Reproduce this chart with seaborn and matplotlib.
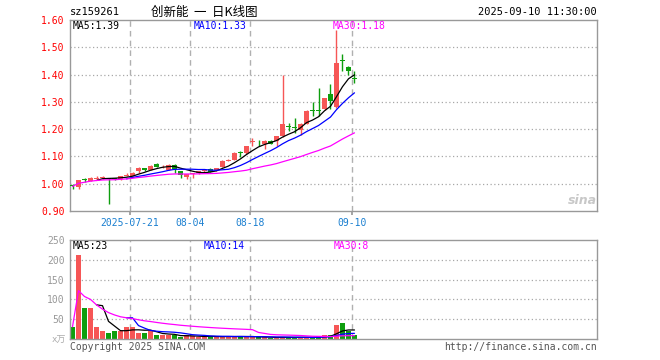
import numpy as np
import pandas as pd
import seaborn as sns
import matplotlib.pyplot as plt

# daily candles 2025-07-07 .. 2025-09-10
opens = [0.995, 0.988, 1.016, 1.011, 1.019, 1.020, 1.020, 1.020, 1.018, 1.030,
         1.030, 1.045, 1.056, 1.052, 1.074, 1.064, 1.051, 1.069, 1.045, 1.024,
         1.036, 1.039, 1.045, 1.055, 1.049, 1.063, 1.085, 1.088, 1.115, 1.113,
         1.153, 1.157, 1.147, 1.158, 1.155, 1.174, 1.210, 1.206, 1.198, 1.220,
         1.270, 1.270, 1.272, 1.327, 1.281, 1.452, 1.426, 1.387]
highs = [1.000, 1.015, 1.020, 1.023, 1.028, 1.027, 1.022, 1.022, 1.030, 1.038,
         1.043, 1.060, 1.059, 1.068, 1.075, 1.070, 1.071, 1.071, 1.047, 1.037,
         1.040, 1.047, 1.053, 1.058, 1.059, 1.086, 1.092, 1.115, 1.119, 1.140,
         1.168, 1.162, 1.160, 1.160, 1.176, 1.400, 1.223, 1.241, 1.222, 1.270,
         1.299, 1.352, 1.315, 1.364, 1.564, 1.475, 1.430, 1.413]
lows = [0.980, 0.980, 1.008, 1.010, 1.015, 1.016, 0.925, 1.015, 1.015, 1.027,
        1.028, 1.040, 1.045, 1.050, 1.060, 1.058, 1.050, 1.039, 1.020, 1.018,
        1.020, 1.037, 1.043, 1.042, 1.046, 1.060, 1.082, 1.086, 1.098, 1.110,
        1.139, 1.139, 1.127, 1.145, 1.139, 1.172, 1.195, 1.186, 1.180, 1.218,
        1.247, 1.247, 1.270, 1.272, 1.278, 1.413, 1.397, 1.370]
closes = [0.990, 1.013, 1.013, 1.021, 1.022, 1.023, 1.018, 1.017, 1.028, 1.033,
          1.041, 1.056, 1.050, 1.066, 1.063, 1.066, 1.069, 1.054, 1.033, 1.035,
          1.039, 1.045, 1.051, 1.044, 1.057, 1.084, 1.088, 1.113, 1.113, 1.137,
          1.156, 1.155, 1.158, 1.147, 1.174, 1.220, 1.207, 1.204, 1.220, 1.268,
          1.267, 1.268, 1.313, 1.303, 1.444, 1.450, 1.413, 1.385]
volumes = [31, 213, 78, 78, 31, 21, 15, 19, 19, 31,
           31, 16, 14, 20, 11, 9, 9, 10, 4, 9,
           7, 6, 6, 6, 6, 6, 7, 6, 6, 6,
           6, 4, 4, 3, 3, 6, 4, 4, 4, 4,
           5, 7, 9, 9, 36, 41, 19, 9]

tick_days = [10, 20, 30, 47]
tick_labels = ["2025-07-21", "08-04", "08-18", "09-10"]
price_ticks = [0.90, 1.00, 1.10, 1.20, 1.30, 1.40, 1.50, 1.60]
vol_ticks = [50, 100, 150, 200, 250]

sns.set_theme(style="white")
plt.rcParams['font.family'] = ['DejaVu Sans Mono', 'Noto Sans CJK SC']

df = pd.DataFrame({"day": np.arange(len(closes)), "open": opens, "high": highs,
                   "low": lows, "close": closes, "vol": volumes})
df["ma5"] = df.close.rolling(5).mean()
df["ma10"] = df.close.rolling(10).mean()
df["ma30"] = df.close.rolling(30, min_periods=1).mean()
df["vma5"] = df.vol.rolling(5).mean()
df["vma10"] = df.vol.rolling(10).mean()
df["vma30"] = df.vol.rolling(30, min_periods=1).mean()

RED, GREEN = "#f65656", "#0e9e0e"
df["col"] = np.where(df.close >= df.open, RED, GREEN)

W, H = 660, 360
fig = plt.figure(figsize=(W / 100, H / 100), dpi=100)
ax = fig.add_axes([70 / W, 1 - 211 / H, 527 / W, 191 / H])
av = fig.add_axes([70 / W, 1 - 339 / H, 527 / W, 99 / H])

xmin, xmax = -2.5 / 6, 524.5 / 6
grid_x = [d - 0.42 for d in tick_days]

for a in (ax, av):
    a.set_xlim(xmin, xmax)
    for s in a.spines.values():
        s.set_color("#999999")
        s.set_linewidth(1)
    for gx in grid_x:
        a.axvline(gx, color="#b0b0b0", lw=1, ls=(0, (4, 3)), zorder=0)

# candles
body_bot = np.minimum(df.open, df.close)
body_h = np.maximum(np.abs(df.close - df.open), 0.0025)
ax.vlines(df.day, df.low, df.high, colors=df.col, lw=1, zorder=2)
ax.bar(df.day, body_h, bottom=body_bot, width=0.83, color=df.col, zorder=3, linewidth=0)

sns.lineplot(data=df, x="day", y="ma5", ax=ax, color="black", lw=0.9, zorder=4)
sns.lineplot(data=df, x="day", y="ma10", ax=ax, color="#0000ff", lw=0.9, zorder=4)
sns.lineplot(data=df, x="day", y="ma30", ax=ax, color="#ff00ff", lw=0.9, zorder=4)

ax.set_ylim(0.90, 1.60)
for y in price_ticks[1:-1]:
    ax.axhline(y, color="#a8a8a8", lw=0.9, ls=(0, (1, 2)), zorder=0)
ax.set_yticks(price_ticks)
ax.set_yticklabels([f"{v:.2f}" for v in price_ticks], color="#ff0000", fontsize=7)
ax.set_xticks(grid_x)
ax.set_xticklabels(tick_labels, color="#1a7fd0", fontsize=7)
ax.tick_params(axis="x", length=3, color="#999999", pad=2, bottom=True)
ax.tick_params(axis="y", length=0, pad=4)
ax.set_xlabel("")
ax.set_ylabel("")

# volume
av.bar(df.day, df.vol, width=0.83, color=df.col, linewidth=0, zorder=2)
sns.lineplot(data=df, x="day", y="vma5", ax=av, color="black", lw=0.9, zorder=4)
sns.lineplot(data=df, x="day", y="vma10", ax=av, color="#0000ff", lw=0.9, zorder=4)
sns.lineplot(data=df, x="day", y="vma30", ax=av, color="#ff00ff", lw=0.9, zorder=4)
av.set_ylim(0, 250)
for y in vol_ticks[:-1]:
    av.axhline(y, color="#a8a8a8", lw=0.9, ls=(0, (1, 2)), zorder=0)
av.set_yticks(vol_ticks)
av.set_yticklabels([str(v) for v in vol_ticks], color="#999999", fontsize=7)
av.tick_params(axis="y", length=0, pad=4)
av.set_xticks([])
av.set_xlabel("")
av.set_ylabel("")

# labels
def px(x, y, s, **kw):
    fig.text(x / W, 1 - y / H, s, va="center", **kw)

px(70, 12, "sz159261", fontsize=7.5, color="black")
px(151, 12, "创新能  一  日K线图", fontsize=9, color="black",
   family=["Noto Sans CJK SC", "DejaVu Sans"])
px(597, 12, "2025-09-10 11:30:00", fontsize=7.5, color="black", ha="right")

px(73, 26, "MA5:1.39", fontsize=7, color="black")
px(194, 26, "MA10:1.33", fontsize=7, color="#0000ff")
px(333, 26, "MA30:1.18", fontsize=7, color="#ff00ff")

px(73, 246, "MA5:23", fontsize=7, color="black")
px(204, 246, "MA10:14", fontsize=7, color="#0000ff")
px(334, 246, "MA30:8", fontsize=7, color="#ff00ff")

px(66, 340, "x万", fontsize=6.5, color="#aaaaaa", ha="right",
   family=["DejaVu Sans Mono", "Noto Sans CJK SC"])
px(70, 347, "Copyright 2025 SINA.COM", fontsize=7, color="#555555")
px(597, 347, "http://finance.sina.com.cn", fontsize=7, color="#555555", ha="right")
px(582, 200, "sina", fontsize=9, color="#c8c8c8", ha="center", style="italic",
   weight="bold", family="DejaVu Sans")

fig.savefig("out.png", dpi=100)
